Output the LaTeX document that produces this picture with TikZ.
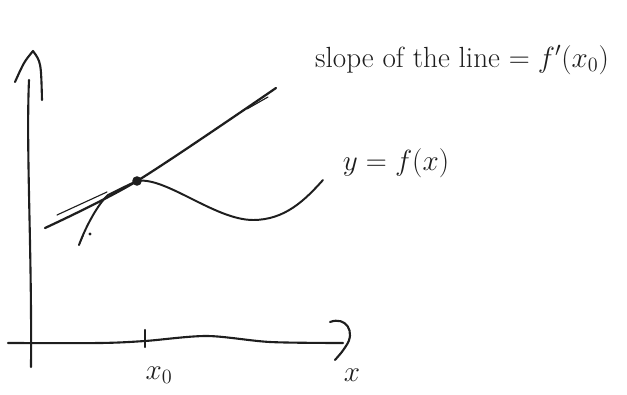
\documentclass[tikz,border=0pt]{standalone}
\usepackage{tikz}
\usetikzlibrary{arrows.meta,positioning}
\definecolor{pencil}{HTML}{1E1E1E}

\begin{document}
\begin{tikzpicture}[
    x=0.025cm, y=-0.025cm,
    line cap=round, line join=round,
    axis/.style={line width=1.5pt, pencil},
    graph/.style={line width=1.4pt, pencil},
    tangent/.style={line width=1.6pt, pencil},
    stroke/.style={line width=0.8pt, pencil},
    lbl/.style={font=\huge, text=pencil, inner sep=1pt},
    point/.style={circle, fill=pencil, inner sep=0pt, minimum size=2.4mm},
]
    \useasboundingbox (0,0) rectangle (627,395);

    % --- Axes ---
    \coordinate (ybot) at (31,367);
    \coordinate (ytop) at (29,80);
    \coordinate (xleft) at (8,343);
    \coordinate (xright) at (343,343);
    \draw[axis] (ybot) .. controls (32,250) and (26,150) .. (ytop);
    \draw[axis] (15,82) .. controls (24,62) .. (33,51) .. controls (41,62) .. (42,100);
    \draw[axis] plot[smooth] coordinates {(xleft) (100,343) (145,341) (207,336) (270,342) (xright)};
    \draw[axis] (330,322) .. controls (346,316) and (356,332) .. (346,346) .. controls (342,352) .. (335,360);

    % --- Tick and axis labels ---
    \coordinate (tick) at (145,347);
    \draw[axis] (145,330) -- (tick);
    \node[lbl] (xzero) at (159,375) {$x_0$};
    \node[lbl] (xlab) at (352,375) {$x$};

    % --- Curve y = f(x) ---
    \coordinate (fstart) at (79,245);
    \coordinate (fleave) at (108,195);
    \coordinate (ftouch) at (137,181);
    \coordinate (fmin) at (253,220);
    \coordinate (fend) at (323,180);
    \draw[graph] (fstart) .. controls (86,226) and (98,204) .. (fleave)
        .. controls (120,189) and (128,185) .. (ftouch)
        .. controls (165,176) and (215,220) .. (fmin)
        .. controls (285,220) and (305,200) .. (fend);
    \node[point] (p0) at (ftouch) {};
    \draw[stroke] (fstart) -- (83,236);
    \fill[pencil] (90,234) circle (1.6);

    % --- Tangent line at x0 ---
    \coordinate (tlow) at (45,228);
    \coordinate (thigh) at (276,88);
    \draw[tangent] plot[smooth] coordinates {(tlow) (ftouch) (thigh)};
    \draw[stroke] (57,215) -- (107,192);
    \draw[stroke] (247,109) -- (268,97);

    % --- Labels ---
    \node[lbl] (slope) at (462,60) {slope of the line $= f'(x_0)$};
    \node[lbl] (flab) at (396,163) {$y=f(x)$};

\end{tikzpicture}
\end{document}
